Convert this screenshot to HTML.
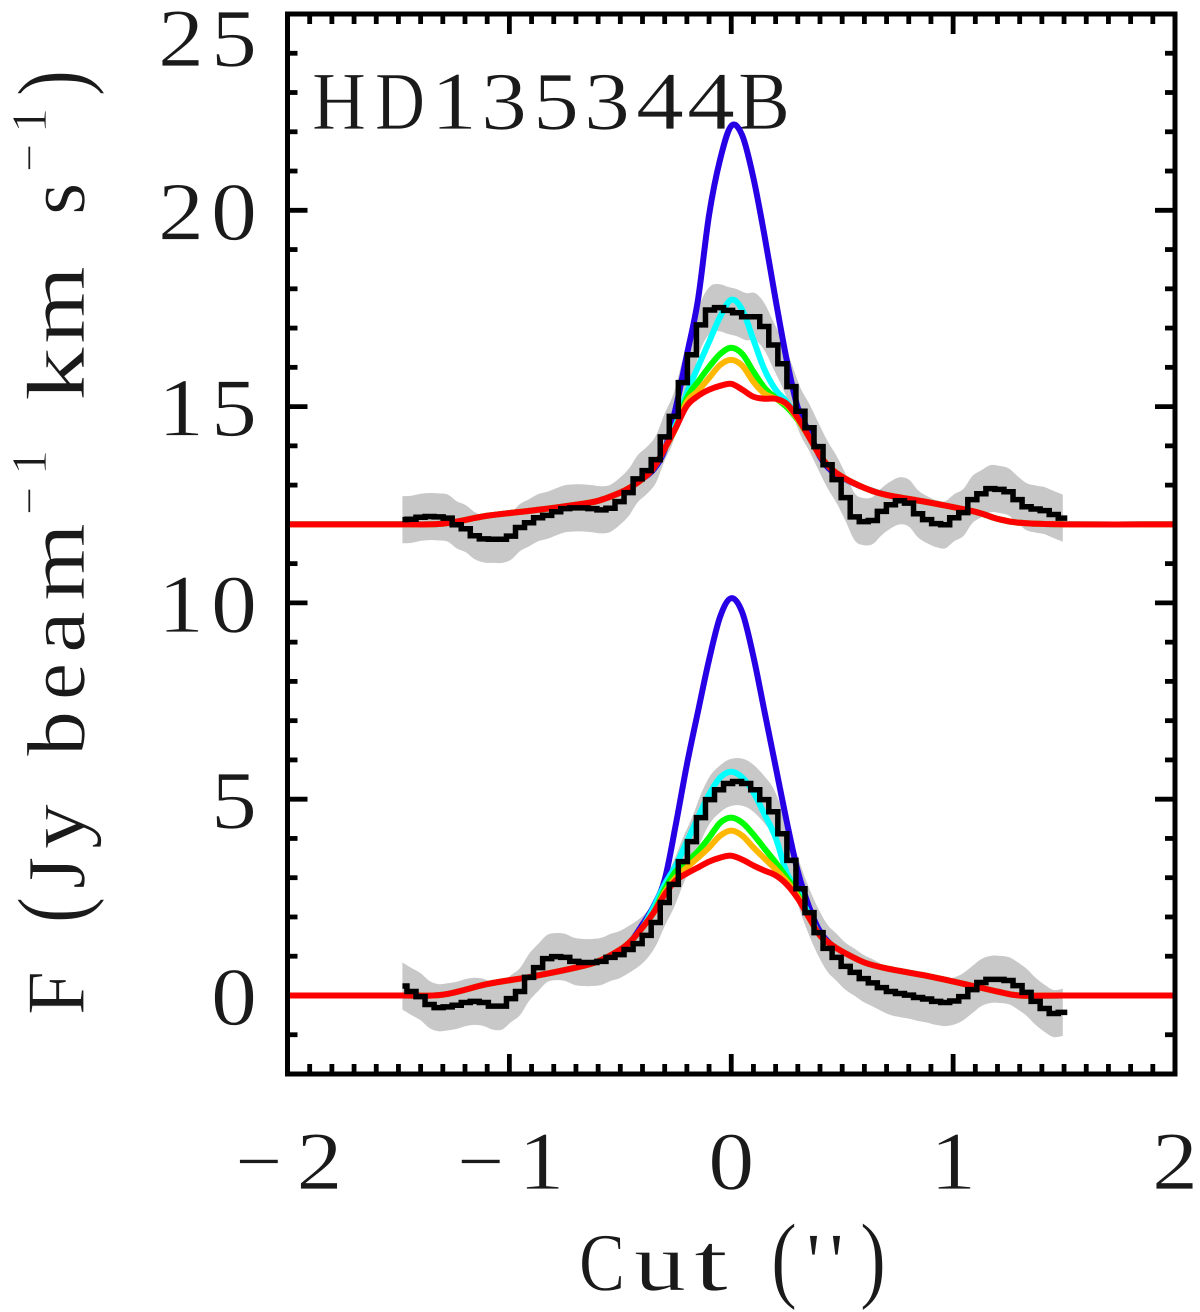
<!DOCTYPE html>
<html lang="en">
<head>
<meta charset="utf-8">
<title>HD135344B cut profile</title>
<style>
html,body{margin:0;padding:0;background:#fff;}
svg{display:block;}
text{font-family:"Liberation Serif",serif;fill:#1a1a1a;stroke:#fff;stroke-width:0.7px;}
</style>
</head>
<body>
<svg id="chart" xmlns="http://www.w3.org/2000/svg" width="1200" height="1312" viewBox="0 0 1200 1312">
  <rect x="0" y="0" width="1200" height="1312" fill="#fff"/>
  <g id="axes"></g>
  <text y="129" font-size="83"><tspan x="312" textLength="54" lengthAdjust="spacingAndGlyphs">H</tspan><tspan x="375" textLength="50" lengthAdjust="spacingAndGlyphs">D</tspan><tspan x="431" textLength="46" lengthAdjust="spacingAndGlyphs">1</tspan><tspan x="481" textLength="46" lengthAdjust="spacingAndGlyphs">3</tspan><tspan x="533" textLength="46" lengthAdjust="spacingAndGlyphs">5</tspan><tspan x="584" textLength="46" lengthAdjust="spacingAndGlyphs">3</tspan><tspan x="636" textLength="48" lengthAdjust="spacingAndGlyphs">4</tspan><tspan x="687" textLength="48" lengthAdjust="spacingAndGlyphs">4</tspan><tspan x="738" textLength="52" lengthAdjust="spacingAndGlyphs">B</tspan></text>
  <g id="marks"></g>
  <rect x="287.5" y="14" width="887.5" height="1060" fill="none" stroke="#000" stroke-width="5"/>
  <text y="1290" font-size="83"><tspan x="579" textLength="46" lengthAdjust="spacingAndGlyphs">C</tspan><tspan x="634" textLength="52" lengthAdjust="spacingAndGlyphs">u</tspan><tspan x="694" textLength="34" lengthAdjust="spacingAndGlyphs">t</tspan> <tspan x="771" font-size="96" textLength="26" lengthAdjust="spacingAndGlyphs">(</tspan><tspan x="806">'</tspan><tspan x="829">'</tspan><tspan x="860" font-size="96" textLength="26" lengthAdjust="spacingAndGlyphs">)</tspan></text>
  <g transform="translate(84,1015) rotate(-90)">
    <text y="0" font-size="83"><tspan x="0" textLength="44" lengthAdjust="spacingAndGlyphs">F</tspan> <tspan x="92" font-size="96" textLength="26" lengthAdjust="spacingAndGlyphs">(</tspan><tspan x="126">J</tspan><tspan x="166" textLength="45" lengthAdjust="spacingAndGlyphs">y</tspan> <tspan x="259" textLength="45" lengthAdjust="spacingAndGlyphs">b</tspan><tspan x="315" textLength="37" lengthAdjust="spacingAndGlyphs">e</tspan><tspan x="362" textLength="42" lengthAdjust="spacingAndGlyphs">a</tspan><tspan x="414" textLength="78" lengthAdjust="spacingAndGlyphs">m</tspan></text>
    <text y="-38" font-size="50"><tspan x="500">−</tspan><tspan x="540">1</tspan></text>
    <text y="0" font-size="83"><tspan x="614" textLength="54" lengthAdjust="spacingAndGlyphs">k</tspan><tspan x="671" textLength="78" lengthAdjust="spacingAndGlyphs">m</tspan></text>
    <text x="800" y="0" font-size="83">s</text>
    <text y="-38" font-size="50"><tspan x="843">−</tspan><tspan x="882">1</tspan></text>
    <text x="919" y="0" font-size="96" textLength="26" lengthAdjust="spacingAndGlyphs">)</text>
  </g>
</svg>
<script>
// Axis ranges
const xDomain = [-2, 2];
const yDomain = [-2, 25];
const xMajorTicks = [-2, -1, 0, 1, 2];
const xTickLabels = ['−2', '−1', '0', '1', '2'];
const yMajorTicks = [0, 5, 10, 15, 20, 25];
const yTickLabels = ['0', '5', '10', '15', '20', '25'];

// Observed profile: bin start, bin width, values (upper is offset by 12)
const binStart = -1.482;
const binWidth = 0.04077;
const observedUpper = [12.12,12.13,12.18,12.2,12.19,12.16,11.99,11.89,11.71,11.63,11.62,11.62,11.7,11.92,12.04,12.17,12.23,12.32,12.4,12.42,12.42,12.4,12.37,12.41,12.58,12.81,13.16,13.37,13.65,14.23,14.75,15.61,16.32,17.08,17.46,17.52,17.45,17.39,17.29,17.29,17.04,16.57,16.09,15.51,14.88,14.46,13.98,13.52,13.14,12.68,12.19,12.07,12.1,12.33,12.5,12.6,12.54,12.27,12.12,12.02,11.99,12.17,12.3,12.63,12.78,12.91,12.89,12.83,12.63,12.45,12.39,12.35,12.25,12.16];
const observedLower = [0.24,0.1,-0.03,-0.23,-0.31,-0.29,-0.25,-0.18,-0.15,-0.18,-0.27,-0.27,-0.08,0.1,0.46,0.71,0.94,0.99,0.97,0.87,0.84,0.84,0.87,0.97,1.04,1.17,1.32,1.53,1.86,2.37,2.83,3.41,3.92,4.53,4.99,5.24,5.4,5.45,5.4,5.24,4.99,4.68,4.12,3.44,2.72,2.11,1.6,1.2,0.97,0.74,0.59,0.43,0.32,0.2,0.1,0.05,0.01,-0.05,-0.09,-0.15,-0.18,-0.14,-0.03,0.15,0.33,0.41,0.41,0.38,0.25,0.08,-0.15,-0.33,-0.46,-0.43];
const noiseSigma = 0.6;

// Model curves: shared cut positions
const modelX = [-2,-1.5,-1.3,-1.1,-0.9,-0.7,-0.6,-0.5,-0.45,-0.4,-0.35,-0.3,-0.25,-0.2,-0.15,-0.1,-0.05,0,0.05,0.1,0.15,0.2,0.25,0.3,0.35,0.4,0.45,0.5,0.6,0.7,0.9,1.1,1.2,1.3,1.5,2];

const blueUpper = [12,12,12.02,12.22,12.35,12.5,12.6,12.81,12.96,13.16,13.4,13.9,14.97,16.32,17.72,19.88,21.3,22.15,21.9,20.82,19.35,17.72,16.19,14.97,14.36,13.72,13.37,13.19,12.93,12.75,12.55,12.32,12.14,12.04,12,12];
const cyanUpper = [12,12,12.02,12.22,12.35,12.5,12.6,12.81,12.96,13.16,13.44,13.93,14.54,15.35,16.01,16.65,17.29,17.72,17.46,16.7,15.94,15.43,15.12,14.71,14.23,13.75,13.42,13.21,12.93,12.75,12.55,12.32,12.14,12.04,12,12];
const greenUpper = [12,12,12.02,12.22,12.35,12.5,12.6,12.81,12.96,13.16,13.44,13.93,14.46,15.22,15.63,16.01,16.34,16.5,16.34,15.89,15.48,15.22,14.99,14.66,14.23,13.75,13.42,13.21,12.93,12.75,12.55,12.32,12.14,12.04,12,12];
const orangeUpper = [12,12,12.02,12.22,12.35,12.5,12.6,12.81,12.96,13.16,13.44,13.93,14.46,15.12,15.4,15.73,16.06,16.19,16.04,15.63,15.33,15.2,15.05,14.68,14.23,13.75,13.42,13.21,12.93,12.75,12.55,12.32,12.14,12.04,12,12];
const redUpper = [12,12,12.02,12.22,12.35,12.5,12.6,12.81,12.96,13.16,13.44,13.93,14.46,15.02,15.27,15.43,15.53,15.58,15.43,15.25,15.2,15.2,15.07,14.71,14.23,13.75,13.42,13.21,12.93,12.75,12.55,12.32,12.14,12.04,12,12];

const blueLower = [0,0,0.02,0.29,0.48,0.71,0.87,1.17,1.4,1.81,2.27,2.95,4.35,5.88,7.23,8.55,9.65,10.12,9.75,8.63,7.23,5.83,4.43,3.16,2.27,1.63,1.3,1.12,0.84,0.69,0.48,0.23,0.1,0,0,0];
const cyanLower = [0,0,0.02,0.29,0.48,0.71,0.87,1.17,1.4,1.73,2.24,2.83,3.31,3.92,4.53,5.12,5.55,5.7,5.55,5.17,4.61,4.02,3.13,2.65,2.06,1.53,1.3,1.12,0.84,0.69,0.48,0.23,0.1,0,0,0];
const greenLower = [0,0,0.02,0.29,0.48,0.71,0.87,1.17,1.4,1.73,2.11,2.7,3.16,3.41,3.67,4.02,4.4,4.53,4.4,4.1,3.74,3.39,3,2.57,1.99,1.53,1.3,1.12,0.84,0.69,0.48,0.23,0.1,0,0,0];
const orangeLower = [0,0,0.02,0.29,0.48,0.71,0.87,1.17,1.4,1.73,2.11,2.62,3,3.26,3.51,3.77,4.07,4.2,4.07,3.77,3.49,3.21,2.9,2.52,1.99,1.53,1.3,1.12,0.84,0.69,0.48,0.23,0.1,0,0,0];
const redLower = [0,0,0.02,0.29,0.48,0.71,0.87,1.17,1.4,1.73,2.11,2.57,2.93,3.11,3.26,3.41,3.51,3.56,3.46,3.31,3.18,3.06,2.83,2.47,1.99,1.53,1.3,1.12,0.84,0.69,0.48,0.23,0.1,0,0,0];

// Axis functions
const plot = {left: 287.5, right: 1175, top: 14, bottom: 1074};
function xScale(v) { return plot.left + (v - xDomain[0]) / (xDomain[1] - xDomain[0]) * (plot.right - plot.left); }
function yScale(v) { return plot.bottom - (v - yDomain[0]) / (yDomain[1] - yDomain[0]) * (plot.bottom - plot.top); }

const NS = 'http://www.w3.org/2000/svg';
function make(parent, tag, props) {
  const el = document.createElementNS(NS, tag);
  for (const k in props) el.setAttribute(k, props[k]);
  parent.appendChild(el);
  return el;
}
// Smooth path through points (Catmull-Rom)
function smooth(pts, continuing) {
  let d = continuing ? 'L' : 'M';
  d += pts[0][0].toFixed(2) + ' ' + pts[0][1].toFixed(2);
  for (let i = 0; i < pts.length - 1; i++) {
    const p0 = pts[Math.max(0, i - 1)], p1 = pts[i], p2 = pts[i + 1], p3 = pts[Math.min(pts.length - 1, i + 2)];
    const c1 = [p1[0] + (p2[0] - p0[0]) / 6, p1[1] + (p2[1] - p0[1]) / 6];
    const c2 = [p2[0] - (p3[0] - p1[0]) / 6, p2[1] - (p3[1] - p1[1]) / 6];
    d += 'C' + c1[0].toFixed(2) + ' ' + c1[1].toFixed(2) + ' ' + c2[0].toFixed(2) + ' ' + c2[1].toFixed(2) + ' ' + p2[0].toFixed(2) + ' ' + p2[1].toFixed(2);
  }
  return d;
}
function binX(i) { return binStart + binWidth * i; }
function stepPath(values) {
  let d = 'M' + xScale(binX(0)).toFixed(2) + ' ' + yScale(values[0]).toFixed(2);
  for (let i = 0; i < values.length; i++) {
    const edge = xScale(binX(i) + binWidth / 2).toFixed(2);
    d += 'H' + edge;
    if (i < values.length - 1) d += 'V' + yScale(values[i + 1]).toFixed(2);
  }
  return d;
}
function bandPath(values) {
  const top = values.map((v, i) => [xScale(binX(i)), yScale(v + noiseSigma)]);
  const bottom = values.map((v, i) => [xScale(binX(i)), yScale(v - noiseSigma)]).reverse();
  return smooth(top, false) + smooth(bottom, true) + 'Z';
}
function curvePath(values) {
  return smooth(values.map((v, i) => [xScale(modelX[i]), yScale(v)]), false);
}

const marks = document.getElementById('marks');
const axes = document.getElementById('axes');

// Noise bands
const bandTop = make(marks, 'path', {d: bandPath(observedUpper), fill: '#c8c8c8'});


const bandBottom = make(marks, 'path', {d: bandPath(observedLower), fill: '#c8c8c8'});



// Model curves
const curveWidth = 6;
const blueTop = make(marks, 'path', {d: curvePath(blueUpper), fill: 'none', stroke: '#2800e6', 'stroke-width': curveWidth});


const cyanTop = make(marks, 'path', {d: curvePath(cyanUpper), fill: 'none', stroke: '#00ffff', 'stroke-width': curveWidth});


const greenTop = make(marks, 'path', {d: curvePath(greenUpper), fill: 'none', stroke: '#00ff00', 'stroke-width': curveWidth});


const orangeTop = make(marks, 'path', {d: curvePath(orangeUpper), fill: 'none', stroke: '#ffb800', 'stroke-width': curveWidth});


const redTop = make(marks, 'path', {d: curvePath(redUpper), fill: 'none', stroke: '#ff0000', 'stroke-width': curveWidth});



const blueBottom = make(marks, 'path', {d: curvePath(blueLower), fill: 'none', stroke: '#2800e6', 'stroke-width': curveWidth});


const cyanBottom = make(marks, 'path', {d: curvePath(cyanLower), fill: 'none', stroke: '#00ffff', 'stroke-width': curveWidth});


const greenBottom = make(marks, 'path', {d: curvePath(greenLower), fill: 'none', stroke: '#00ff00', 'stroke-width': curveWidth});


const orangeBottom = make(marks, 'path', {d: curvePath(orangeLower), fill: 'none', stroke: '#ffb800', 'stroke-width': curveWidth});


const redBottom = make(marks, 'path', {d: curvePath(redLower), fill: 'none', stroke: '#ff0000', 'stroke-width': curveWidth});



// Observed histograms
const stepTop = make(marks, 'path', {d: stepPath(observedUpper), fill: 'none', stroke: '#000', 'stroke-width': 5.5});


const stepBottom = make(marks, 'path', {d: stepPath(observedLower), fill: 'none', stroke: '#000', 'stroke-width': 5.5});



// X ticks: minor every 0.1, major every 1
for (let n = -20; n <= 20; n++) {
  const major = n % 10 === 0;
  const len = major ? 20 : 10;
  const x = xScale(n / 10);
  const bottomTick = make(axes, 'line', {x1: x, x2: x, y1: plot.bottom, y2: plot.bottom - len, stroke: '#000', 'stroke-width': 4.8});
  
  
  const topTick = make(axes, 'line', {x1: x, x2: x, y1: plot.top, y2: plot.top + len, stroke: '#000', 'stroke-width': 4.8});
  
  
}
// Y ticks: minor every 1, major every 5
for (let v = yDomain[0]; v <= yDomain[1]; v++) {
  const major = v % 5 === 0;
  const len = major ? 20 : 10;
  const y = yScale(v);
  const leftTick = make(axes, 'line', {x1: plot.left, x2: plot.left + len, y1: y, y2: y, stroke: '#000', 'stroke-width': 4.8});
  
  
  const rightTick = make(axes, 'line', {x1: plot.right, x2: plot.right - len, y1: y, y2: y, stroke: '#000', 'stroke-width': 4.8});
  
  
}
// One tspan per character so glyphs can sit at the reference's wide pitch
function putChar(label, ch, x, stretch) {
  const span = make(label, 'tspan', {x: x});
  if (stretch) { span.setAttribute('textLength', stretch); span.setAttribute('lengthAdjust', 'spacingAndGlyphs'); }
  span.textContent = ch;
}
// Tick labels
xMajorTicks.forEach((v, i) => {
  const label = make(axes, 'text', {y: 1189, 'font-size': 83});
  const text = xTickLabels[i];
  if (text.length > 1) {
    putChar(label, text[0], xScale(v) - 52, 0);
    putChar(label, text[1], xScale(v) + 9, 46);
  } else {
    putChar(label, text, xScale(v) - 23, 46);
  }
  
  
});
yMajorTicks.forEach((v, i) => {
  const label = make(axes, 'text', {y: Math.max(yScale(v) + 29, 66), 'font-size': 83});
  const text = yTickLabels[i];
  const pitch = 53;
  for (let c = 0; c < text.length; c++) {
    putChar(label, text[c], 211 - pitch * (text.length - 1 - c), 46);
  }
  
  
});
</script>
</body>
</html>
